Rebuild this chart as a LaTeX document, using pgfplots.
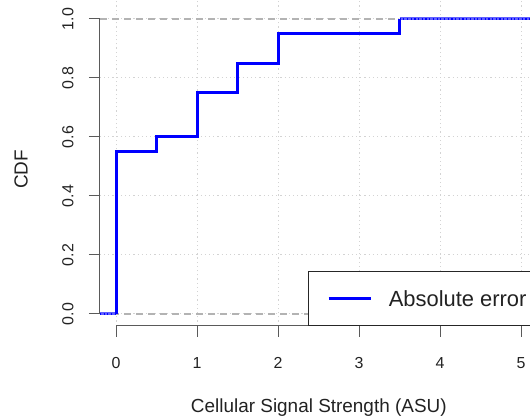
\documentclass[border=0pt]{standalone}
\usepackage{pgfplots}
\pgfplotsset{compat=1.18}
\usepackage{fontspec}
\setmainfont{Liberation Sans}
\definecolor{rgrid}{HTML}{D3D3D3}
\definecolor{rdash}{HTML}{B3B3B3}
\definecolor{raxis}{HTML}{5A5A5A}
\definecolor{rtext}{HTML}{222222}
\definecolor{lblue}{HTML}{6060FF}
\begin{document}
\begin{tikzpicture}
\useasboundingbox (0,0) rectangle (530bp,418bp);
\begin{axis}[
  at={(99.8bp,92.2bp)}, anchor=south west,
  x=81bp, y=295bp,
  xmin=-0.2, xmax=5.3, ymin=-0.04, ymax=1.08,
  clip=false,
  axis x line*=bottom, axis y line*=left,
  axis line style={draw=none},
  xtick={0,1,2,3,4,5}, ytick={0,0.2,0.4,0.6,0.8,1},
  tick align=outside, major tick length=11bp,
  tick style={raxis, line width=1bp},
  grid=major,
  major grid style={rgrid, line width=1bp, dash pattern=on 1.2bp off 3bp},
  /pgf/number format/assume math mode=true,
  tick label style={font=\fontsize{16}{19}\selectfont, text=rtext},
  xticklabel style={anchor=base, yshift=-32bp},
  yticklabel style={rotate=90, anchor=base, yshift=15.5bp,
    /pgf/number format/fixed, /pgf/number format/fixed zerofill,
    /pgf/number format/precision=1},
  xlabel={Cellular Signal Strength (ASU)},
  ylabel={CDF},
  every axis x label/.style={at={(axis cs:2.504,-0.3322)}, anchor=base,
    font=\fontsize{19}{23}\selectfont, text=rtext},
  every axis y label/.style={at={(axis cs:-1.173,0.49)}, anchor=center, rotate=90,
    font=\fontsize{19}{23}\selectfont, text=rtext},
  legend image code/.code={\draw[blue, line width=3bp] (0bp,0bp) -- (42.6bp,0bp);},
  legend style={at={(axis cs:2.367,-0.04)}, anchor=south west,
    draw=black!85, line width=1bp, fill=white,
    inner xsep=19bp, inner ysep=18.75bp,
    font=\fontsize{22}{26}\selectfont, text=rtext,
    nodes={inner sep=0pt, text height=16bp, text depth=0pt},
    /tikz/column sep=16bp},
  legend cell align=left,
]
% dashed reference lines at 0 and 1
\addplot[rdash, line width=1.2bp, dash pattern=on 7bp off 5bp, forget plot]
  coordinates {(-0.2,0) (5.3,0)};
\addplot[rdash, line width=1.2bp, dash pattern=on 7bp off 5bp, forget plot]
  coordinates {(-0.2,1) (5.3,1)};
% axis lines (R style, detached)
\draw[raxis, line width=1bp] (axis cs:0,-0.04) -- (axis cs:5.3,-0.04);
\draw[raxis, line width=1bp] (axis cs:-0.2,0) -- (axis cs:-0.2,1);
% extension segments
\addplot[lblue, line width=3bp, forget plot] coordinates {(-0.2,0) (0,0)};
\addplot[lblue, line width=3bp, forget plot] coordinates {(3.5,1) (5.3,1)};
\addplot[blue, line width=1.2bp, dash pattern=on 1.2bp off 2.5bp, forget plot] coordinates {(-0.2,0) (0,0)};
\addplot[blue, line width=1.2bp, dash pattern=on 1.2bp off 2.5bp, forget plot] coordinates {(3.5,1) (5.3,1)};
% main step function
\addplot[blue, line width=3bp, const plot] coordinates {
  (0,0) (0,0.55) (0.5,0.6) (1,0.75) (1.5,0.85) (2,0.95) (3.5,1)};
\addlegendentry{Absolute error}
\end{axis}
\end{tikzpicture}
\end{document}
